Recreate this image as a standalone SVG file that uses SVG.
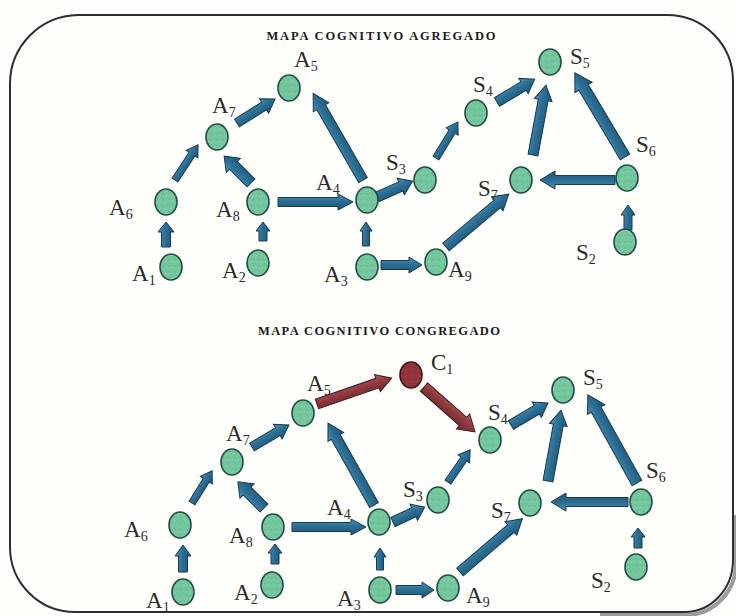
<svg xmlns="http://www.w3.org/2000/svg" width="736" height="616" viewBox="0 0 736 616">
  <defs>
    <pattern id="speck" width="6" height="6" patternUnits="userSpaceOnUse">
      <rect width="6" height="6" fill="#74c69e"/>
      <circle cx="1.2" cy="1.5" r="0.7" fill="#62b58e"/>
      <circle cx="4.2" cy="3.8" r="0.7" fill="#8fd4b0"/>
      <circle cx="4.5" cy="0.8" r="0.5" fill="#66b991"/>
      <circle cx="1.5" cy="4.6" r="0.5" fill="#88cfaa"/>
    </pattern>
    <pattern id="speckRed" width="6" height="6" patternUnits="userSpaceOnUse">
      <rect width="6" height="6" fill="#933438"/>
      <circle cx="1.2" cy="1.5" r="0.7" fill="#80292d"/>
      <circle cx="4.2" cy="3.8" r="0.7" fill="#a3464a"/>
    </pattern>
    <linearGradient id="blueGrad" x1="0" y1="0" x2="0" y2="1">
      <stop offset="0" stop-color="#4f93b8"/>
      <stop offset="0.45" stop-color="#2c6f95"/>
      <stop offset="1" stop-color="#1d5475"/>
    </linearGradient>
    <linearGradient id="redGrad" x1="0" y1="0" x2="0" y2="1">
      <stop offset="0" stop-color="#b45a5e"/>
      <stop offset="0.45" stop-color="#8f3a3f"/>
      <stop offset="1" stop-color="#6e282c"/>
    </linearGradient>
  </defs>
  <style>
    .frame { fill: none; stroke: #2e2e2e; stroke-width: 2; }
    .shadow { fill: none; stroke: #9c9c9c; stroke-width: 4; }
    .node { fill: url(#speck); stroke: #1f4d44; stroke-width: 1.6; }
    .nodeRed { fill: url(#speckRed); stroke: #3d1416; stroke-width: 1.6; }
    .ar { fill: url(#blueGrad); stroke: #163b52; stroke-width: 1; stroke-linejoin: miter; }
    .arRed { fill: url(#redGrad); stroke: #3f1719; stroke-width: 1; }
    .lbl { font-family: "Liberation Serif", "Times New Roman", serif; font-size: 23px; fill: #2a2a2a; }
    .sub { font-size: 14px; }
    .title { font-family: "Liberation Serif", "Times New Roman", serif; font-size: 12.5px; font-weight: bold; fill: #1a1a1a; }
  </style>

  <rect width="736" height="616" fill="#fefefb"/>

  <!-- rounded border with drop shadow along the lower right -->
  <path class="shadow" d="M736,515 V562 A50 52 0 0 1 686,615 H600"/>
  <path class="frame" d="M78,15 H667 A66 66 0 0 1 733 81 V560 A48 52 0 0 1 685 612 H75 A65 65 0 0 1 10 547 V84 A69 69 0 0 1 78 15 Z"/>

  <text class="title" x="381" y="40" text-anchor="middle" textLength="229" lengthAdjust="spacing">MAPA COGNITIVO AGREGADO</text>
  <text class="title" x="379" y="335" text-anchor="middle" textLength="242" lengthAdjust="spacing">MAPA COGNITIVO CONGREGADO</text>

  <!-- connectors -->
  <g id="connectors">
    <g id="top-connectors">
      <path class="ar" transform="translate(166,247) rotate(-90)" d="M0,-4.5H15V-8L25,0L15,8V4.5H0Z"/>
      <path class="ar" transform="translate(175,180) rotate(-56.7)" d="M0,-3.5H31V-7L42,0L31,7V3.5H0Z"/>
      <path class="ar" transform="translate(251,183) rotate(-135)" d="M0,-5.5H25V-10L38,0L25,10V5.5H0Z"/>
      <path class="ar" transform="translate(263,241) rotate(-90)" d="M0,-4H10V-7L19,0L10,7V4H0Z"/>
      <path class="ar" transform="translate(237,123) rotate(-32.3)" d="M0,-4.5H32V-8.5L45,0L32,8.5V4.5H0Z"/>
      <path class="ar" transform="translate(278,202)" d="M0,-4.5H60V-8L75,0L60,8V4.5H0Z"/>
      <path class="ar" transform="translate(363,180) rotate(-119.9)" d="M0,-5H84V-9L100,0L84,9V5H0Z"/>
      <path class="ar" transform="translate(366,246) rotate(-90)" d="M0,-3.5H15V-6L24,0L15,6V3.5H0Z"/>
      <path class="ar" transform="translate(377,197) rotate(-24)" d="M0,-5H26V-9L39,0L26,9V5H0Z"/>
      <path class="ar" transform="translate(381,265)" d="M0,-4.5H28V-8L41,0L28,8V4.5H0Z"/>
      <path class="ar" transform="translate(436,158) rotate(-58.6)" d="M0,-3.5H31V-7L42,0L31,7V3.5H0Z"/>
      <path class="ar" transform="translate(446,247) rotate(-40.1)" d="M0,-5H67V-9L82,0L67,9V5H0Z"/>
      <path class="ar" transform="translate(497,102) rotate(-31.2)" d="M0,-5H31V-9L44,0L31,9V5H0Z"/>
      <path class="ar" transform="translate(533,155) rotate(-79.5)" d="M0,-5H56V-9L71,0L56,9V5H0Z"/>
      <path class="ar" transform="translate(615,180) rotate(180)" d="M0,-4.5H60V-9L75,0L60,9V4.5H0Z"/>
      <path class="ar" transform="translate(625,157) rotate(-120.8)" d="M0,-5.5H81V-10L98,0L81,10V5.5H0Z"/>
      <path class="ar" transform="translate(628,230) rotate(-90)" d="M0,-4H15V-7L25,0L15,7V4H0Z"/>
    </g>
    <g id="bottom-connectors">
      <path class="ar" transform="translate(183,572) rotate(-90)" d="M0,-4.5H16V-8L27,0L16,8V4.5H0Z"/>
      <path class="ar" transform="translate(192,503) rotate(-58)" d="M0,-3.5H27V-7L38,0L27,7V3.5H0Z"/>
      <path class="ar" transform="translate(264,508) rotate(-135)" d="M0,-5.5H24V-10L37,0L24,10V5.5H0Z"/>
      <path class="ar" transform="translate(275,564) rotate(-90)" d="M0,-4H11V-7L20,0L11,7V4H0Z"/>
      <path class="ar" transform="translate(252,447) rotate(-30.7)" d="M0,-4.5H30V-8.5L43,0L30,8.5V4.5H0Z"/>
      <path class="ar" transform="translate(292,527)" d="M0,-4.5H59V-8L74,0L59,8V4.5H0Z"/>
      <path class="ar" transform="translate(374,505) rotate(-119.3)" d="M0,-5H78V-9L94,0L78,9V5H0Z"/>
      <path class="arRed" transform="translate(317,404) rotate(-19.1)" d="M0,-5H64V-9L79,0L64,9V5H0Z"/>
      <path class="arRed" transform="translate(424,387) rotate(41.4)" d="M0,-5.5H52V-10L68,0L52,10V5.5H0Z"/>
      <path class="ar" transform="translate(380,570) rotate(-90)" d="M0,-3.5H13V-6L22,0L13,6V3.5H0Z"/>
      <path class="ar" transform="translate(393,522) rotate(-25.1)" d="M0,-5H23V-9L35,0L23,9V5H0Z"/>
      <path class="ar" transform="translate(396,590)" d="M0,-4.5H26V-8L38,0L26,8V4.5H0Z"/>
      <path class="ar" transform="translate(448,482) rotate(-55.5)" d="M0,-3.5H28V-7L39,0L28,7V3.5H0Z"/>
      <path class="ar" transform="translate(460,572) rotate(-40.5)" d="M0,-5H67V-9L82,0L67,9V5H0Z"/>
      <path class="ar" transform="translate(511,425) rotate(-30.7)" d="M0,-5H30V-9L43,0L30,9V5H0Z"/>
      <path class="ar" transform="translate(548,481) rotate(-79.6)" d="M0,-5H57V-9L72,0L57,9V5H0Z"/>
      <path class="ar" transform="translate(628,502) rotate(180)" d="M0,-4.5H62V-9L77,0L62,9V4.5H0Z"/>
      <path class="ar" transform="translate(637,483) rotate(-119.1)" d="M0,-5.5H84V-10L101,0L84,10V5.5H0Z"/>
      <path class="ar" transform="translate(638,548) rotate(-90)" d="M0,-4H11V-7L20,0L11,7V4H0Z"/>
    </g>
  </g>

  <!-- aggregated map nodes -->
  <g id="agg-A1"><ellipse class="node" cx="171" cy="267" rx="11" ry="13"/><text class="lbl" x="132" y="281">A<tspan class="sub" dy="4">1</tspan></text></g>
  <g id="agg-A2"><ellipse class="node" cx="258" cy="263" rx="11" ry="13"/><text class="lbl" x="222" y="278">A<tspan class="sub" dy="4">2</tspan></text></g>
  <g id="agg-A3"><ellipse class="node" cx="367" cy="267" rx="11" ry="13"/><text class="lbl" x="324" y="282">A<tspan class="sub" dy="4">3</tspan></text></g>
  <g id="agg-A4"><ellipse class="node" cx="367" cy="200" rx="11" ry="13"/><text class="lbl" x="316" y="190">A<tspan class="sub" dy="4">4</tspan></text></g>
  <g id="agg-A5"><ellipse class="node" cx="289" cy="88" rx="11" ry="13"/><text class="lbl" x="294" y="67">A<tspan class="sub" dy="4">5</tspan></text></g>
  <g id="agg-A6"><ellipse class="node" cx="166" cy="202" rx="11" ry="13"/><text class="lbl" x="109" y="215">A<tspan class="sub" dy="4">6</tspan></text></g>
  <g id="agg-A7"><ellipse class="node" cx="217" cy="137" rx="11" ry="13"/><text class="lbl" x="212" y="113">A<tspan class="sub" dy="4">7</tspan></text></g>
  <g id="agg-A8"><ellipse class="node" cx="258" cy="202" rx="11" ry="13"/><text class="lbl" x="216" y="217">A<tspan class="sub" dy="4">8</tspan></text></g>
  <g id="agg-A9"><ellipse class="node" cx="436" cy="262" rx="11" ry="13"/><text class="lbl" x="448" y="277">A<tspan class="sub" dy="4">9</tspan></text></g>
  <g id="agg-S2"><ellipse class="node" cx="625" cy="242" rx="11" ry="13"/><text class="lbl" x="576" y="260">S<tspan class="sub" dy="4">2</tspan></text></g>
  <g id="agg-S3"><ellipse class="node" cx="425" cy="180" rx="11" ry="13"/><text class="lbl" x="386" y="170">S<tspan class="sub" dy="4">3</tspan></text></g>
  <g id="agg-S4"><ellipse class="node" cx="476" cy="113" rx="11" ry="13"/><text class="lbl" x="473" y="92">S<tspan class="sub" dy="4">4</tspan></text></g>
  <g id="agg-S5"><ellipse class="node" cx="550" cy="62" rx="11" ry="13"/><text class="lbl" x="570" y="64">S<tspan class="sub" dy="4">5</tspan></text></g>
  <g id="agg-S6"><ellipse class="node" cx="627" cy="178" rx="11" ry="13"/><text class="lbl" x="636" y="152">S<tspan class="sub" dy="4">6</tspan></text></g>
  <g id="agg-S7"><ellipse class="node" cx="521" cy="180" rx="11" ry="13"/><text class="lbl" x="478" y="196">S<tspan class="sub" dy="4">7</tspan></text></g>

  <!-- congregated map nodes -->
  <g id="cong-A1"><ellipse class="node" cx="183" cy="592" rx="11" ry="13"/><text class="lbl" x="146" y="608">A<tspan class="sub" dy="4">1</tspan></text></g>
  <g id="cong-A2"><ellipse class="node" cx="272" cy="585" rx="11" ry="13"/><text class="lbl" x="234" y="600">A<tspan class="sub" dy="4">2</tspan></text></g>
  <g id="cong-A3"><ellipse class="node" cx="380" cy="590" rx="11" ry="13"/><text class="lbl" x="337" y="606">A<tspan class="sub" dy="4">3</tspan></text></g>
  <g id="cong-A4"><ellipse class="node" cx="379" cy="522" rx="11" ry="13"/><text class="lbl" x="327" y="515">A<tspan class="sub" dy="4">4</tspan></text></g>
  <g id="cong-A5"><ellipse class="node" cx="303" cy="413" rx="11" ry="13"/><text class="lbl" x="307" y="391">A<tspan class="sub" dy="4">5</tspan></text></g>
  <g id="cong-A6"><ellipse class="node" cx="180" cy="525" rx="11" ry="13"/><text class="lbl" x="124" y="537">A<tspan class="sub" dy="4">6</tspan></text></g>
  <g id="cong-A7"><ellipse class="node" cx="232" cy="462" rx="11" ry="13"/><text class="lbl" x="226" y="441">A<tspan class="sub" dy="4">7</tspan></text></g>
  <g id="cong-A8"><ellipse class="node" cx="273" cy="527" rx="11" ry="13"/><text class="lbl" x="229" y="543">A<tspan class="sub" dy="4">8</tspan></text></g>
  <g id="cong-A9"><ellipse class="node" cx="448" cy="588" rx="11" ry="13"/><text class="lbl" x="466" y="603">A<tspan class="sub" dy="4">9</tspan></text></g>
  <g id="cong-C1"><ellipse class="nodeRed" cx="411" cy="375" rx="11" ry="13"/><text class="lbl" x="431" y="370">C<tspan class="sub" dy="4">1</tspan></text></g>
  <g id="cong-S2"><ellipse class="node" cx="636" cy="567" rx="11" ry="13"/><text class="lbl" x="591" y="588">S<tspan class="sub" dy="4">2</tspan></text></g>
  <g id="cong-S3"><ellipse class="node" cx="438" cy="500" rx="11" ry="13"/><text class="lbl" x="403" y="497">S<tspan class="sub" dy="4">3</tspan></text></g>
  <g id="cong-S4"><ellipse class="node" cx="490" cy="440" rx="11" ry="13"/><text class="lbl" x="488" y="420">S<tspan class="sub" dy="4">4</tspan></text></g>
  <g id="cong-S5"><ellipse class="node" cx="563" cy="390" rx="11" ry="13"/><text class="lbl" x="583" y="385">S<tspan class="sub" dy="4">5</tspan></text></g>
  <g id="cong-S6"><ellipse class="node" cx="641" cy="502" rx="11" ry="13"/><text class="lbl" x="646" y="478">S<tspan class="sub" dy="4">6</tspan></text></g>
  <g id="cong-S7"><ellipse class="node" cx="530" cy="503" rx="11" ry="13"/><text class="lbl" x="491" y="518">S<tspan class="sub" dy="4">7</tspan></text></g>
</svg>
